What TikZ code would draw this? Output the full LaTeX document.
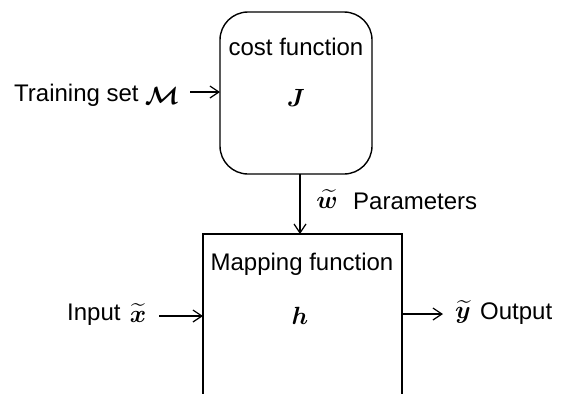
\documentclass[tikz,border=0pt]{standalone}
\usepackage{amsmath}
\usepackage{bm}
\usepackage{fontspec}
\setmainfont{Liberation Sans}
\usetikzlibrary{arrows.meta}
\begin{document}
\begin{tikzpicture}[x=1pt,y=-1pt,
  every node/.style={font=\fontsize{24}{28}\selectfont, inner sep=0pt},
  mathsym/.style={font=\fontsize{29}{32}\selectfont},
  conn/.style={line width=1.4pt, -{Straight Barb[length=9pt,width=12pt,line width=1.2pt]}},
  boxline/.style={draw, line width=1.4pt}]
\useasboundingbox (0,0) rectangle (563,394);
% cost function box
\draw[boxline, rounded corners=28pt] (220,12) rectangle (372,174);
\coordinate (costS) at (300,174);
\coordinate (costW) at (220,92);
\node (costlbl) at (296,47) {cost function};
\node[mathsym] (J) at (296,98) {$\bm{J}$};
% mapping box (cut off at bottom)
\draw[boxline] (203,420) -- (203,234) -- (402,234) -- (402,420);
\coordinate (mapN) at (300,234);
\coordinate (mapW) at (203,316);
\coordinate (mapE) at (402,314);
\node (maplbl) at (302,264) {Mapping function};
\node[mathsym] (h) at (300,316) {$\bm{h}$};
% training set
\node[anchor=west] (train) at (14,95) {Training set};
\node[font=\fontsize{24}{28}\selectfont] (M) at (162,96) {$\bm{\mathcal{M}}$};
\coordinate (trainE) at (190,92);
\draw[conn] (trainE) -- (costW);
% parameters
\draw[conn] (costS) -- (mapN);
\node[mathsym] (w) at (327,199) {$\widetilde{\bm{w}}$};
\node[anchor=west] (param) at (353,201) {Parameters};
% input
\node[anchor=west] (inp) at (67,315) {Input};
\node[mathsym] (x) at (138,313) {$\widetilde{\bm{x}}$};
\coordinate (inpE) at (159,316);
\draw[conn] (inpE) -- (mapW);
% output
\coordinate (outW) at (443,314);
\draw[conn] (mapE) -- (outW);
\node[mathsym] (y) at (463,312) {$\widetilde{\bm{y}}$};
\node[anchor=west] (out) at (480,314) {Output};
\end{tikzpicture}
\end{document}
